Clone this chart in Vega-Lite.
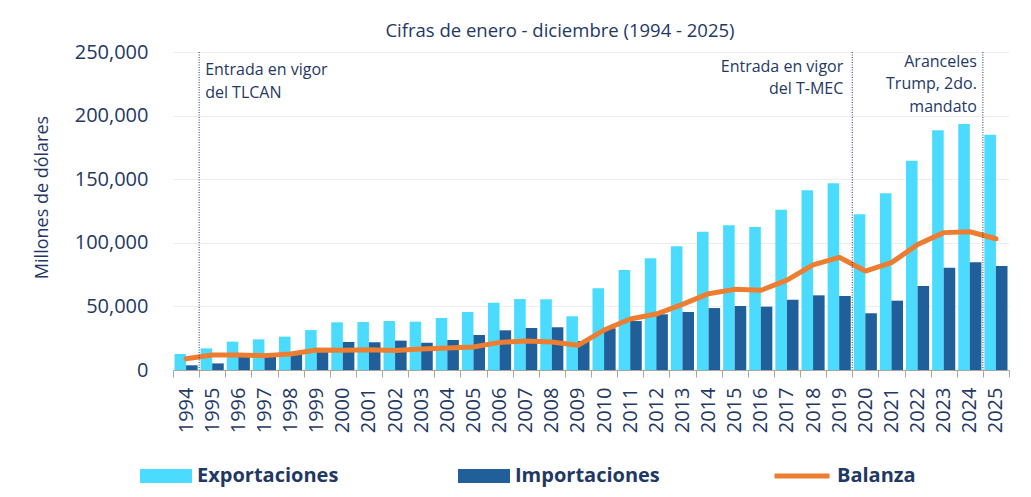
{
  "$schema": "https://vega.github.io/schema/vega-lite/v6.json",
  "width": 836,
  "height": 318,
  "autosize": {"type": "none"},
  "padding": {"left": 173, "top": 52, "right": 22, "bottom": 127},
  "background": "white",
  "config": {"view": {"stroke": null}, "font": "Open Sans"},
  "title": {
    "text": "Cifras de enero - diciembre (1994 - 2025)",
    "fontSize": 18.5,
    "fontWeight": "normal",
    "color": "#1F3864",
    "anchor": "middle",
    "dx": -31,
    "offset": 2,
    "font": "Open Sans"
  },
  "datasets": {
    "main": [
      {"year": "1994", "Exportaciones": 12600, "Importaciones": 3700, "Balanza": 8900},
      {"year": "1995", "Exportaciones": 17000, "Importaciones": 5200, "Balanza": 11800},
      {"year": "1996", "Exportaciones": 22300, "Importaciones": 10500, "Balanza": 11800},
      {"year": "1997", "Exportaciones": 24100, "Importaciones": 12800, "Balanza": 11300},
      {"year": "1998", "Exportaciones": 26200, "Importaciones": 13600, "Balanza": 12600},
      {"year": "1999", "Exportaciones": 31400, "Importaciones": 15700, "Balanza": 15700},
      {"year": "2000", "Exportaciones": 37500, "Importaciones": 22000, "Balanza": 15500},
      {"year": "2001", "Exportaciones": 37700, "Importaciones": 21800, "Balanza": 15900},
      {"year": "2002", "Exportaciones": 38500, "Importaciones": 23100, "Balanza": 15400},
      {"year": "2003", "Exportaciones": 38000, "Importaciones": 21500, "Balanza": 16500},
      {"year": "2004", "Exportaciones": 40900, "Importaciones": 23600, "Balanza": 17300},
      {"year": "2005", "Exportaciones": 45600, "Importaciones": 27500, "Balanza": 18100},
      {"year": "2006", "Exportaciones": 52900, "Importaciones": 31200, "Balanza": 21700},
      {"year": "2007", "Exportaciones": 55800, "Importaciones": 33000, "Balanza": 22800},
      {"year": "2008", "Exportaciones": 55600, "Importaciones": 33600, "Balanza": 22000},
      {"year": "2009", "Exportaciones": 42200, "Importaciones": 22800, "Balanza": 19400},
      {"year": "2010", "Exportaciones": 64200, "Importaciones": 32800, "Balanza": 31400},
      {"year": "2011", "Exportaciones": 78600, "Importaciones": 38500, "Balanza": 40100},
      {"year": "2012", "Exportaciones": 87800, "Importaciones": 43800, "Balanza": 44000},
      {"year": "2013", "Exportaciones": 97200, "Importaciones": 45600, "Balanza": 51600},
      {"year": "2014", "Exportaciones": 108700, "Importaciones": 48700, "Balanza": 60000},
      {"year": "2015", "Exportaciones": 113700, "Importaciones": 50300, "Balanza": 63400},
      {"year": "2016", "Exportaciones": 112400, "Importaciones": 49800, "Balanza": 62600},
      {"year": "2017", "Exportaciones": 126000, "Importaciones": 55300, "Balanza": 70700},
      {"year": "2018", "Exportaciones": 141300, "Importaciones": 58700, "Balanza": 82600},
      {"year": "2019", "Exportaciones": 146800, "Importaciones": 58200, "Balanza": 88600},
      {"year": "2020", "Exportaciones": 122400, "Importaciones": 44600, "Balanza": 77800},
      {"year": "2021", "Exportaciones": 138900, "Importaciones": 54500, "Balanza": 84400},
      {"year": "2022", "Exportaciones": 164600, "Importaciones": 66000, "Balanza": 98600},
      {"year": "2023", "Exportaciones": 188400, "Importaciones": 80400, "Balanza": 108000},
      {"year": "2024", "Exportaciones": 193400, "Importaciones": 84700, "Balanza": 108700},
      {"year": "2025", "Exportaciones": 185000, "Importaciones": 81800, "Balanza": 103200}
    ]
  },
  "data": {"name": "main"},
  "layer": [
    {
      "transform": [{"fold": ["Exportaciones", "Importaciones"], "as": ["serie", "valor"]}],
      "mark": {"type": "bar"},
      "encoding": {
        "x": {
          "field": "year",
          "type": "nominal",
          "scale": {"paddingInner": 0, "paddingOuter": 0},
          "axis": {
            "title": null,
            "labelAngle": 270,
            "labelFontSize": 20,
            "labelColor": "#1F3864",
            "labelPadding": 10,
            "tickBand": "extent",
            "tickColor": "#A6A6A6",
            "tickSize": 7,
            "domainColor": "#A6A6A6",
            "grid": false
          }
        },
        "xOffset": {"field": "serie", "scale": {"paddingOuter": 0.13, "paddingInner": 0}},
        "y": {
          "field": "valor",
          "type": "quantitative",
          "scale": {"domain": [0, 250000], "nice": false},
          "axis": {
            "values": [0, 50000, 100000, 150000, 200000, 250000],
            "format": ",d",
            "labelFontSize": 20,
            "labelColor": "#1F3864",
            "labelPadding": 25,
            "ticks": false,
            "domain": false,
            "grid": true,
            "gridColor": "#EEEEEE",
            "title": "Millones  de dólares",
            "titleFontSize": 18,
            "titleFontWeight": "normal",
            "titleColor": "#1F3864",
            "titlePadding": 23,
            "titleY": 145
          }
        },
        "fill": {
          "field": "serie",
          "type": "nominal",
          "scale": {"domain": ["Exportaciones", "Importaciones"], "range": ["#4BDBFF", "#215F9A"]},
          "legend": {
            "title": null,
            "orient": "none",
            "legendX": -33,
            "legendY": 398,
            "direction": "horizontal",
            "symbolType": "M-1,-0.27H1V0.27H-1Z",
            "symbolSize": 2704,
            "symbolStrokeWidth": 0,
            "labelFontSize": 20,
            "labelFontWeight": "bold",
            "labelColor": "#1F3864",
            "labelOffset": 5,
            "columnPadding": 119,
            "padding": 0
          }
        }
      }
    },
    {
      "mark": {"type": "line", "strokeWidth": 5, "strokeCap": "round", "strokeJoin": "round"},
      "encoding": {
        "x": {"field": "year", "type": "nominal"},
        "y": {"field": "Balanza", "type": "quantitative"},
        "stroke": {
          "datum": "Balanza",
          "type": "nominal",
          "scale": {"domain": ["Balanza"], "range": ["#ED7D31"]},
          "legend": {
            "title": null,
            "orient": "none",
            "legendX": 599,
            "legendY": 394,
            "symbolType": "stroke",
            "symbolSize": 3025,
            "symbolStrokeWidth": 5,
            "labelFontSize": 20,
            "labelFontWeight": "bold",
            "labelColor": "#1F3864",
            "labelOffset": 5,
            "padding": 0
          }
        }
      }
    },
    {
      "data": {"values": [{"year": "1995"}, {"year": "2020"}, {"year": "2025"}]},
      "mark": {"type": "rule", "color": "#1F3864", "strokeWidth": 1, "strokeDash": [1, 1.5]},
      "encoding": {"x": {"field": "year", "type": "nominal", "bandPosition": 0}}
    },
    {
      "data": {"values": [{"year": "1995", "label": ["Entrada en vigor", "del TLCAN"]}]},
      "mark": {"type": "text", "align": "left", "baseline": "top", "fontSize": 16, "lineHeight": 22.5, "color": "#1F3864", "dx": 6},
      "encoding": {
        "x": {"field": "year", "type": "nominal", "bandPosition": 0},
        "y": {"datum": 242000, "type": "quantitative"},
        "text": {"field": "label"}
      }
    },
    {
      "data": {"values": [{"year": "2020", "label": ["Entrada en vigor", "del T-MEC"]}]},
      "mark": {"type": "text", "align": "right", "baseline": "top", "fontSize": 16, "lineHeight": 22.5, "color": "#1F3864", "dx": -9},
      "encoding": {
        "x": {"field": "year", "type": "nominal", "bandPosition": 0},
        "y": {"datum": 244500, "type": "quantitative"},
        "text": {"field": "label"}
      }
    },
    {
      "data": {"values": [{"year": "2025", "label": ["Aranceles", "Trump, 2do.", "mandato"]}]},
      "mark": {"type": "text", "align": "right", "baseline": "top", "fontSize": 16, "lineHeight": 22.5, "color": "#1F3864", "dx": -6},
      "encoding": {
        "x": {"field": "year", "type": "nominal", "bandPosition": 0},
        "y": {"datum": 248500, "type": "quantitative"},
        "text": {"field": "label"}
      }
    }
  ]
}
